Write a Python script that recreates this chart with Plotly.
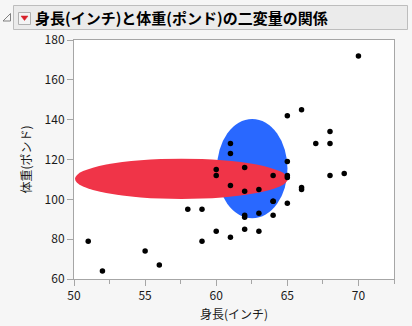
import plotly.graph_objects as go

# Big Class data (height in inches, weight in pounds)
height = [59, 61, 55, 66, 52, 60, 61, 51, 60, 61, 56, 65, 63, 58, 59, 61, 62, 65, 63, 62,
          63, 64, 65, 64, 68, 64, 69, 62, 64, 67, 65, 66, 62, 66, 65, 60, 68, 62, 68, 70]
weight = [95, 123, 74, 145, 64, 84, 128, 79, 112, 107, 67, 98, 105, 95, 79, 81, 91, 142, 84, 85,
          93, 99, 119, 92, 112, 99, 113, 92, 112, 128, 111, 105, 104, 106, 112, 115, 128, 116, 134, 172]

# Ellipses: (center x, center y, radius x, radius y)
red_ellipse = [57.55, 110.3, 7.48, 10.1]
blue_ellipse = [62.53, 115.4, 2.48, 24.9]

title_text = "身長(インチ)と体重(ポンド)の二変量の関係"
x_title = "身長(インチ)"
y_title = "体重(ポンド)"

W, H = 412, 326
L, R, T, B = 74, 394, 40, 279


def px(x):
    return (x - L) / (R - L)


def py(y):
    return (B - y) / (B - T)


FONT = "Noto Sans CJK JP"

fig = go.Figure()
fig.add_trace(go.Scatter(x=height, y=weight, mode="markers",
                         marker=dict(color="black", size=5.5), hoverinfo="skip"))

shapes = []
for (cx, cy, rx, ry), col in [(blue_ellipse, "rgb(41,104,255)"), (red_ellipse, "rgb(240,52,72)")]:
    shapes.append(dict(type="circle", xref="x", yref="y", x0=cx - rx, x1=cx + rx,
                       y0=cy - ry, y1=cy + ry, fillcolor=col, line=dict(width=0), layer="below"))

# title bar
shapes.append(dict(type="rect", xref="paper", yref="paper", x0=px(13.5), x1=px(407.5),
                   y0=py(29.5), y1=py(5.5), fillcolor="#EBEBEB", line=dict(color="#BDBDBD", width=1)))
# red triangle button
shapes.append(dict(type="rect", xref="paper", yref="paper", x0=px(18.5), x1=px(30.5),
                   y0=py(24.5), y1=py(12.5), fillcolor="#F4F4F4", line=dict(color="#B0B0B0", width=1)))
shapes.append(dict(type="path", xref="paper", yref="paper",
                   path=f"M {px(21)} {py(16)} L {px(28)} {py(16)} L {px(24.5)} {py(20.5)} Z",
                   fillcolor="#D8202A", line=dict(color="#D8202A", width=0.5)))
# disclosure triangle
shapes.append(dict(type="path", xref="paper", yref="paper",
                   path=f"M {px(3)} {py(21)} L {px(10.5)} {py(21)} L {px(10.5)} {py(13.5)} Z",
                   fillcolor="rgba(0,0,0,0)", line=dict(color="#808080", width=1)))

fig.update_layout(
    width=W, height=H,
    margin=dict(l=L, r=W - R, t=T, b=H - B, autoexpand=False),
    paper_bgcolor="#F6F6F6", plot_bgcolor="white",
    showlegend=False,
    shapes=shapes,
    font=dict(family=FONT, size=12, color="#1A1A1A"),
    annotations=[dict(text=f"<b>{title_text}</b>", xref="paper", yref="paper",
                      x=px(33), y=py(17.5), xanchor="left", yanchor="middle",
                      showarrow=False, font=dict(size=15, color="black", family=FONT))],
    xaxis=dict(range=[50, 72.5], tickvals=[50, 55, 60, 65, 70], showgrid=False, zeroline=False,
               automargin=False,
               showline=True, linecolor="#A6A6A6", mirror=True, ticks="outside", ticklen=6,
               tickcolor="#A6A6A6",
               minor=dict(dtick=2.5, tick0=50, ticks="outside", ticklen=4, tickcolor="#A6A6A6"),
               title=dict(text=x_title, standoff=8, font=dict(size=12)), tickfont=dict(size=12)),
    yaxis=dict(range=[60, 180], tickvals=[60, 80, 100, 120, 140, 160, 180], showgrid=False,
               automargin=False,
               zeroline=False, showline=True, linecolor="#A6A6A6", mirror=True, ticks="outside",
               ticklen=6, tickcolor="#A6A6A6",
               title=dict(text=y_title, standoff=10, font=dict(size=12)), tickfont=dict(size=12)),
)

fig.write_html("out.html")
